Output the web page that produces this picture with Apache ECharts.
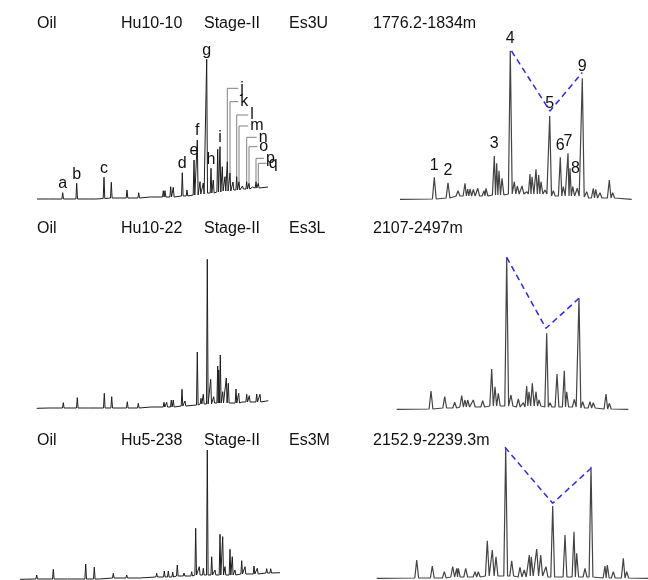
<!DOCTYPE html>
<html><head><meta charset="utf-8">
<script src="https://cdn.jsdelivr.net/npm/echarts@6/dist/echarts.min.js"></script>
<style>html,body{margin:0;padding:0;background:#fff}#c{width:648px;height:580px}</style>
</head><body><div id="c"></div>
<script>
// ---------- Panel 1: Hu10-10 whole-oil chromatogram ----------
const P1_TIME = [19, 32.7, 46.7, 60, 66.7, 74, 81.3, 88, 97, 108.7, 121, 133.3, 135, 140.7, 143.3, 152.3, 157, 164, 167.3, 170, 173.3, 176.7, 181, 183.3, 187.7, 190, 192.3, 195, 197.3, 200, 203, 206.7, 209, 212.5, 216.7, 219, 222.5, 226, 228.3];
const P1_HEIGHT = [2.5, 7.3, 16.7, 2.5, 2.5, 22.7, 17.7, 3.5, 10, 7.3, 4.3, 9.3, 9.3, 13.3, 12.7, 27.3, 10, 40, 60, 18.3, 17, 140.7, 31.7, 20, 50.7, 53.3, 33.3, 23.3, 38.3, 27, 18, 23.3, 18.3, 14, 18.3, 16.7, 13, 18.3, 16.7];
const P1_FOOT = [1,1,1,1,1,1.5,2,2,2,2,3,3,3,3,3,4,4,5,5,6,6,7,7,7,8,8,9,9,9,9,10,10,10,11,11,11,12,12,12];
const P1_START = [7, 1], P1_END = [238, 13];
const P1_LABEL = ['a','b','c','d','e','f','g','h','i'];
const P1_LABEL_AT = [1, 2, 5, 15, 17, 18, 21, 22, 25];
const P1_BRACKET_NAME = ['j','k','l','m','n','o','p','q'];
const P1_BRACKET_PEAK = [28, 29, 31, 32, 34, 35, 37, 38];
const P1_BRACKET_LEVEL = [111.7, 98.3, 85, 74, 62.7, 53.3, 41.7, 36.7];
const P1_BRACKET_END = [208.3, 208.3, 218.3, 218.3, 226.7, 227.3, 234, 236.7];

// ---------- Panel 2: Hu10-10 m/z 191 ----------
const P2_TIME = [54.3, 68, 78, 85, 87.7, 90, 93.3, 97.7, 104, 106, 114.3, 116.7, 119, 122, 130.3, 134.3, 137.3, 142, 146.7, 150, 152, 156, 158.7, 161, 165, 169.7, 173.3, 180.3, 183.3, 188, 190, 192.7, 197.3, 202.3, 206.7, 213.3, 215.7, 220, 229.3, 232.7];
const P2_HEIGHT = [22.7, 17.3, 9.3, 16.7, 11, 11, 10.7, 11.7, 9.3, 11.7, 44, 36.7, 29.3, 21.7, 149.3, 18.3, 14, 14, 8.3, 26, 23.3, 30.7, 25, 18.3, 10, 84, 9.3, 42.7, 13.3, 46.7, 31.7, 13.3, 11.7, 121.7, 8.3, 11.7, 10.7, 7.3, 20, 7.3];
const P2_FOOT = [1,2,4,4,4,4,4,4,4,4,5,5,5,5,6,6,6,6,6,6,6,6,6,6,6,4,4,4,4,4,4,4,4,3,2,2,2,2,2,2];
const P2_START = [20, 0.7], P2_END = [251.7, 0.7];
const P2_LABEL = ['1','2','3','4','5','6','7','8','9'];
const P2_LABEL_AT = [0, 1, 10, 14, 25, 27, 29, 30, 33];
const P2_RATIO_TIME = [131.5, 170, 202.3];
const P2_RATIO_LEVEL = [149, 89, 127.5];

// ---------- Panel 3: Hu10-22 whole oil ----------
const P3_TIME = [20, 33.3, 47.3, 59.3, 74.3, 81.7, 97.3, 108.3, 121.7, 134, 136.7, 141.3, 143.3, 152, 155, 167.3, 171, 173.3, 177.3, 180.7, 183.7, 187.7, 188.7, 190.3, 192.7, 196.3, 198.3, 202, 206, 208.7, 212.7, 216.7, 219.3, 226.7, 230];
const P3_HEIGHT = [2.7, 7.3, 12.3, 4, 16.7, 13.3, 8.3, 6.7, 5, 7.7, 7.7, 10, 10, 20.7, 9, 58, 11.7, 15.7, 150.7, 30.7, 13.3, 44, 40, 55, 18.3, 32, 26.7, 8.3, 21, 16.7, 8.3, 15.7, 14.3, 16, 15.7];
const P3_FOOT = [2,2,2,2,2,2,2,2,3,3,3,3,3,4,4,5,6,6,6,6,7,7,7,7,7,7,7,7,7,7,8,8,8,8,8];
const P3_START = [6.7, 1.7], P3_END = [238.3, 9.3];

// ---------- Panel 4: Hu10-22 m/z 191 ----------
const P4_TIME = [51, 64.7, 74.7, 81.7, 85, 87.7, 93.3, 102.7, 111.7, 115, 118.3, 126.7, 131, 138.3, 143.3, 146.7, 149, 152.3, 156, 159, 166.7, 170, 177, 184.3, 186.7, 194.3, 199, 202.7, 210, 213.3, 226, 229.3];
const P4_HEIGHT = [19, 13.3, 7.7, 14.3, 10, 10, 10, 9.3, 41, 23.3, 16.7, 152.7, 15, 11, 7.3, 24, 18.3, 26.7, 18.3, 10, 76.7, 7.3, 36, 39.3, 18.3, 10.7, 111.7, 8.3, 8.3, 7.3, 16, 6.7];
const P4_FOOT = [1,2,2,3,3,3,3,3,4,4,4,4,4,3,3,4,4,4,4,4,3,3,3,3,3,3,3,2,2,2,1,1];
const P4_START = [16.7, 0.7], P4_END = [248.3, 0.7];
const P4_RATIO_TIME = [126.7, 166, 199];
const P4_RATIO_LEVEL = [152.7, 81.7, 111.7];

// ---------- Panel 5: Hu5-238 whole oil ----------
const P5_TIME = [26.7, 43.3, 58.3, 75.7, 84.3, 90, 103.3, 116.7, 130, 146.7, 154.3, 158.3, 162.7, 167.3, 174, 181.7, 185.7, 189.3, 193.3, 197.3, 201.7, 205, 210, 212.7, 215, 220, 222.3, 225, 231.7, 235, 244, 247.3, 256.7, 260.7];
const P5_HEIGHT = [5, 10.7, 2.7, 16, 12.7, 3, 6.7, 5, 3, 6.7, 9, 9, 8, 15, 7, 8.3, 51.7, 13.3, 11.7, 130, 23.3, 10, 45.7, 43.3, 13.3, 30.7, 23.3, 10, 19.3, 13.3, 14, 11.7, 11.3, 11.3];
const P5_FOOT = [1,1,1,1,1,1,2,2,2,3,3,3,3,4,4,4,5,5,5,5,5,5,5,5,5,5,5,5,6,6,6,6,7,7];
const P5_START = [10, 0.7], P5_END = [270, 7.3];

// ---------- Panel 6: Hu5-238 m/z 191 ----------
const P6_TIME = [46.7, 62.3, 74.3, 82.7, 86.7, 88.3, 95.7, 105, 108.3, 117.3, 122.3, 126, 135.7, 141.7, 150, 154.3, 159.3, 161.3, 166.7, 170.7, 176, 182.7, 195, 204, 206.7, 215, 221, 235, 237.3, 243.3, 253.3, 256.7];
const P6_HEIGHT = [20, 14, 8.3, 13.3, 11.7, 11.7, 11.7, 8.3, 8.3, 39.3, 30, 23.3, 131.7, 19.3, 12.7, 10, 25, 23.3, 31, 25, 13.3, 74, 45, 48.3, 26.7, 11.7, 113.3, 14, 15, 8.3, 21.7, 8.3];
const P6_FOOT = [2,2,2,3,3,3,3,3,3,4,4,4,4,4,3,3,4,4,4,4,3,3,3,3,3,3,3,2,2,2,2,2];
const P6_START = [6.7, 1.7], P6_END = [278, 1.7];
const P6_RATIO_TIME = [135, 182.7, 221];
const P6_RATIO_LEVEL = [132.7, 76.7, 111.7];

// ---------- Header texts ----------
const ROW_SAMPLE = ['Hu10-10', 'Hu10-22', 'Hu5-238'];
const ROW_STAGE = ['Stage-II', 'Stage-II', 'Stage-II'];
const ROW_FORMATION = ['Es3U', 'Es3L', 'Es3M'];
const ROW_DEPTH = ['1776.2-1834m', '2107-2497m', '2152.9-2239.3m'];

// ================= build =================
const FONT = '"Liberation Sans", Arial, sans-serif';
const TXT = '#111';

function buildTrace(start, times, heights, feet, end, w) {
  const pts = [start.slice()];
  for (let i = 0; i < times.length; i++) {
    const t = times[i], l = t - w;
    const last = pts[pts.length - 1];
    if (i > 0 && last[0] > l) {
      last[0] = (times[i - 1] + t) / 2;
      last[1] = Math.min(last[1], feet[i]);
    } else {
      pts.push([l, feet[i]]);
    }
    pts.push([t, heights[i]]);
    pts.push([t + w, feet[i]]);
  }
  pts.push(end.slice());
  return pts;
}

const panels = [
  { grid: {left: 30, top: 40, width: 260, height: 160}, t: P1_TIME, h: P1_HEIGHT, f: P1_FOOT, s: P1_START, e: P1_END, w: 0.8, color: '#1e1e1e', lw: 1,
    labels: P1_LABEL, labelAt: P1_LABEL_AT, labelDist: 1 },
  { grid: {left: 380, top: 40, width: 260, height: 160}, t: P2_TIME, h: P2_HEIGHT, f: P2_FOOT, s: P2_START, e: P2_END, w: 1.9, color: '#444', lw: 1.2,
    labels: P2_LABEL, labelAt: P2_LABEL_AT, labelDist: 4, rt: P2_RATIO_TIME, rl: P2_RATIO_LEVEL },
  { grid: {left: 30, top: 250, width: 260, height: 160}, t: P3_TIME, h: P3_HEIGHT, f: P3_FOOT, s: P3_START, e: P3_END, w: 0.8, color: '#1e1e1e', lw: 1 },
  { grid: {left: 380, top: 250, width: 260, height: 160}, t: P4_TIME, h: P4_HEIGHT, f: P4_FOOT, s: P4_START, e: P4_END, w: 1.9, color: '#444', lw: 1.2,
    rt: P4_RATIO_TIME, rl: P4_RATIO_LEVEL },
  { grid: {left: 10, top: 440, width: 280, height: 140}, t: P5_TIME, h: P5_HEIGHT, f: P5_FOOT, s: P5_START, e: P5_END, w: 0.8, color: '#1e1e1e', lw: 1 },
  { grid: {left: 370, top: 440, width: 278, height: 140}, t: P6_TIME, h: P6_HEIGHT, f: P6_FOOT, s: P6_START, e: P6_END, w: 1.9, color: '#444', lw: 1.2,
    rt: P6_RATIO_TIME, rl: P6_RATIO_LEVEL }
];

const grids = [], xAxes = [], yAxes = [], series = [];
const labelStyle = {show: true, fontFamily: FONT, fontSize: 16, color: TXT, opacity: 1, textBorderWidth: 0};
panels.forEach((p, k) => {
  grids.push(Object.assign({containLabel: false}, p.grid));
  xAxes.push({type: 'value', gridIndex: k, min: 0, max: p.grid.width, show: false});
  yAxes.push({type: 'value', gridIndex: k, min: 0, max: p.grid.height, show: false});
  series.push({
    type: 'line', xAxisIndex: k, yAxisIndex: k, symbol: 'none', animation: false, z: 2,
    lineStyle: {color: p.color, width: p.lw}, data: buildTrace(p.s, p.t, p.h, p.f, p.e, p.w)
  });
  if (p.labels) {
    series.push({
      type: 'scatter', xAxisIndex: k, yAxisIndex: k, symbolSize: 0, animation: false, silent: true,
      itemStyle: {color: TXT, opacity: 1},
      label: Object.assign({position: 'top', distance: p.labelDist}, labelStyle),
      data: p.labelAt.map((idx, j) => {
        const item = {name: p.labels[j], value: [p.t[idx], p.h[idx]]};
        if (p.labels[j] === '8') item.label = {position: 'right', distance: 1};
        return item;
      })
    });
  }
  if (p.rt) {
    series.push({
      type: 'line', xAxisIndex: k, yAxisIndex: k, symbol: 'none', animation: false, z: 3,
      lineStyle: {color: '#2b2bf0', width: 1.5, type: [6, 4]},
      data: p.rt.map((t, i) => [t, p.rl[i]])
    });
  }
});

// brackets j..q in panel 1
P1_BRACKET_NAME.forEach((name, i) => {
  const idx = P1_BRACKET_PEAK[i];
  series.push({
    type: 'line', xAxisIndex: 0, yAxisIndex: 0, symbol: 'none', animation: false, z: 1,
    lineStyle: {color: '#808080', width: 1},
    data: [[P1_TIME[idx], P1_HEIGHT[idx]], [P1_TIME[idx], P1_BRACKET_LEVEL[i]], [P1_BRACKET_END[i], P1_BRACKET_LEVEL[i]]]
  });
});
series.push({
  type: 'scatter', xAxisIndex: 0, yAxisIndex: 0, symbolSize: 0, animation: false, silent: true,
  itemStyle: {color: TXT, opacity: 1},
  label: Object.assign({position: 'right', distance: 2}, labelStyle),
  data: P1_BRACKET_NAME.map((name, i) => ({name: name, value: [P1_BRACKET_END[i], P1_BRACKET_LEVEL[i]]}))
});
series.forEach(s => { if (s.type === 'scatter') s.label.formatter = '{b}'; });

// header texts
const rowY = [25, 229.5, 441.5];
const graphic = [];
rowY.forEach((y, r) => {
  const items = [['Oil', 37], [ROW_SAMPLE[r], 121], [ROW_STAGE[r], 204], [ROW_FORMATION[r], 289], [ROW_DEPTH[r], 373]];
  items.forEach(([txt, x]) => graphic.push({
    type: 'text', left: x, top: y - 9, z: 10,
    style: {text: txt, fill: TXT, font: '16px ' + FONT}
  }));
});

const chart = echarts.init(document.getElementById('c'), null, {renderer: 'canvas'});
chart.setOption({
  backgroundColor: '#fff', animation: false,
  grid: grids, xAxis: xAxes, yAxis: yAxes, series: series, graphic: graphic
});
</script></body></html>
